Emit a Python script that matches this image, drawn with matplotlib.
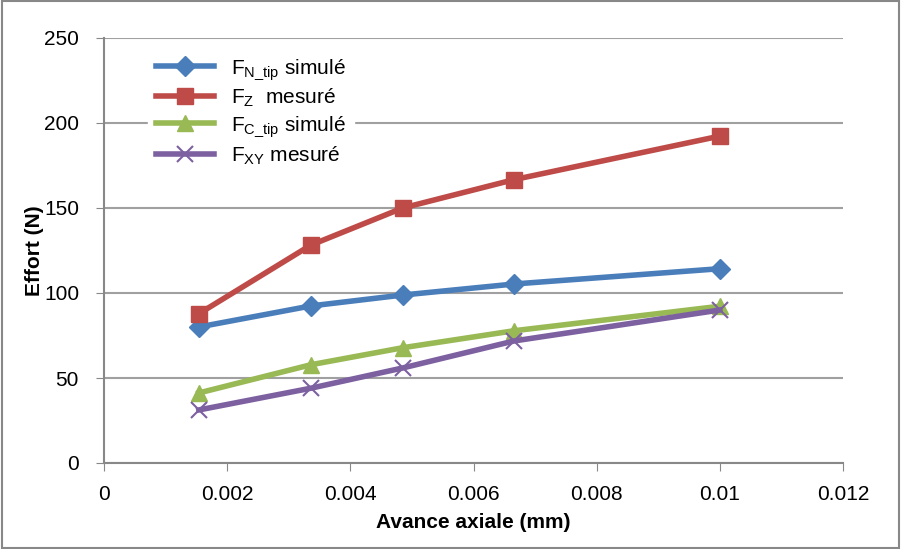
import matplotlib
matplotlib.use("Agg")
import matplotlib.pyplot as plt

plt.rcParams['font.family'] = ['Liberation Sans', 'DejaVu Sans']
plt.rcParams['mathtext.default'] = 'regular'

# données
avance = [0.00154, 0.00336, 0.00485, 0.00666, 0.0100]
fn_tip = [80, 92.4, 98.8, 105.3, 114.3]
fz = [87.8, 128.2, 150.0, 166.7, 192.3]
fc_tip = [41.2, 57.8, 67.8, 77.8, 92.2]
fxy = [31.2, 44.0, 55.9, 71.8, 90.0]

xticks = [0, 0.002, 0.004, 0.006, 0.008, 0.01, 0.012]
xlabels = ['0', '0.002', '0.004', '0.006', '0.008', '0.01', '0.012']
yticks = [0, 50, 100, 150, 200, 250]

fig = plt.figure(figsize=(9.01, 5.49), dpi=100)
ax = fig.add_axes([104/901, 1 - 463/549, (843-104)/901, (463-38)/549])

lw = 4
ax.plot(avance, fn_tip, color='#4a7ebb', lw=lw, marker='D', ms=10, label=r'F$_{N\_tip}$ simulé', zorder=5)
ax.plot(avance, fz, color='#be4b48', lw=lw, marker='s', ms=12, label=r'F$_{Z}$  mesuré', zorder=5)
ax.plot(avance, fc_tip, color='#98b954', lw=lw, marker='^', ms=12, label=r'F$_{C\_tip}$ simulé', zorder=5)
ax.plot(avance, fxy, color='#7d60a0', lw=lw, marker='x', ms=12, mew=1.5, label=r'F$_{XY}$ mesuré', zorder=5)

ax.set_xlim(0, 0.012)
ax.set_ylim(0, 250)
ax.set_xticks(xticks)
ax.set_xticklabels(xlabels)
ax.set_yticks(yticks)
ax.tick_params(labelsize=15, colors='#888888', labelcolor='black', length=6, direction='out')
ax.tick_params(axis='x', pad=10)
ax.tick_params(axis='y', pad=12)
ax.yaxis.grid(True, color='#a0a0a0', lw=1.5)
ax.set_axisbelow(True)
for s in ['top', 'right']:
    ax.spines[s].set_visible(False)
for s in ['left', 'bottom']:
    ax.spines[s].set_color('#888888')
    ax.spines[s].set_linewidth(1.5)

ax.set_xlabel('Avance axiale (mm)', fontsize=15, fontweight='bold', labelpad=6)
ax.set_ylabel('Effort (N)', fontsize=15, fontweight='bold', labelpad=0)

leg = ax.legend(loc='upper left', bbox_to_anchor=(0.045, 1.0), fontsize=15, frameon=True,
                fancybox=False, edgecolor='white', framealpha=1, handlelength=2.8,
                labelspacing=0.25, borderpad=0.4)

fig.patches.append(plt.Rectangle((0.002, 0.002), 0.996, 0.996, transform=fig.transFigure,
                                 fill=False, edgecolor='#888888', lw=1.5))

fig.savefig('out.png', dpi=100)
